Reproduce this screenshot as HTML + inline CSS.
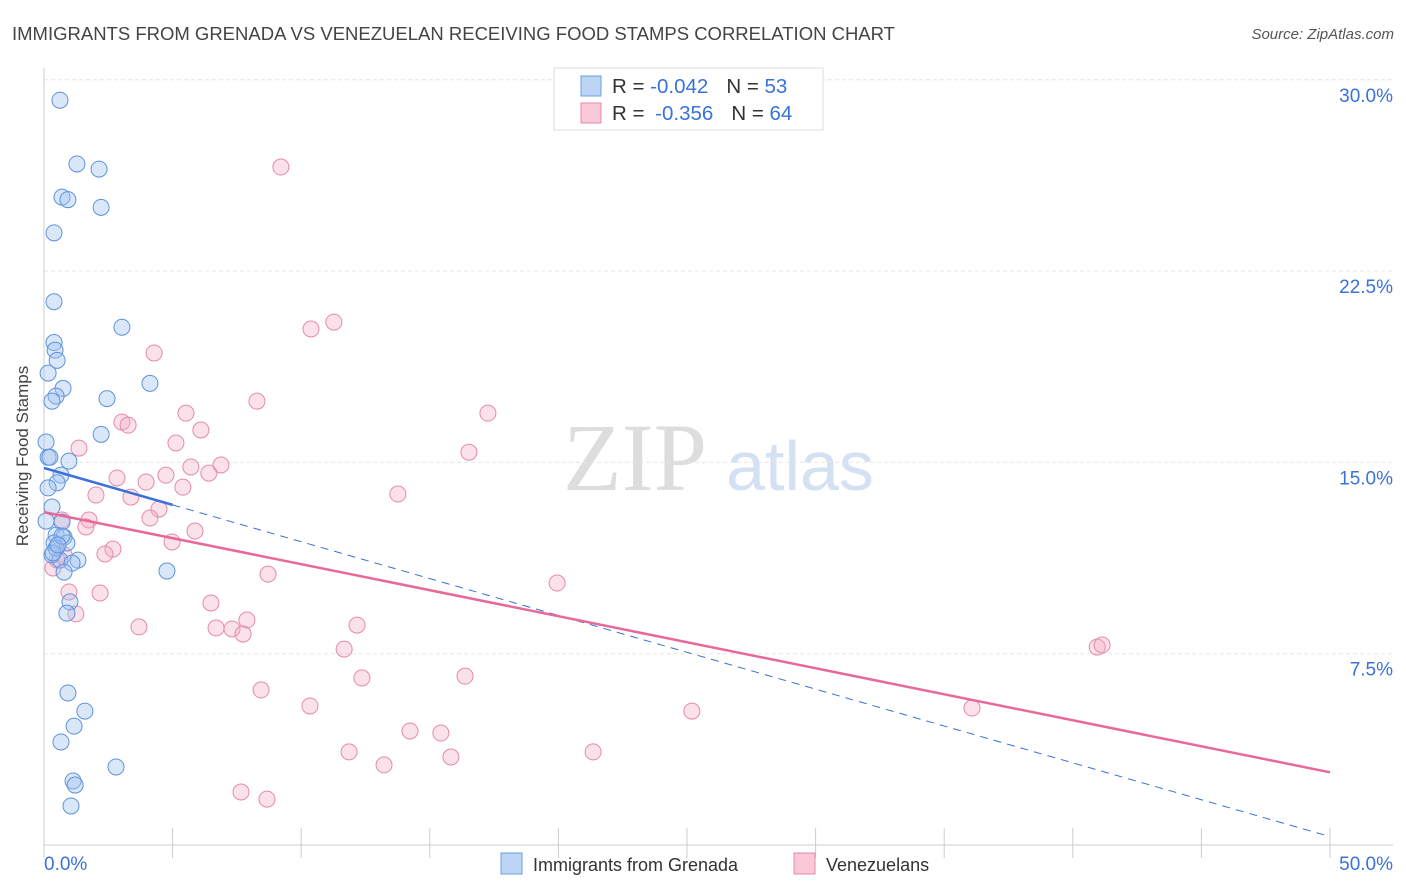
<!DOCTYPE html>
<html><head><meta charset="utf-8"><style>
body{margin:0;background:#fff;font-family:"Liberation Sans",sans-serif;}
svg{display:block}
</style></head><body>
<svg id="chart" width="1406" height="892" viewBox="0 0 1406 892">
<text x="12" y="40" font-size="18.5" fill="#444">IMMIGRANTS FROM GRENADA VS VENEZUELAN RECEIVING FOOD STAMPS CORRELATION CHART</text>
<text x="1394" y="39" font-size="15" fill="#555" font-style="italic" text-anchor="end">Source: ZipAtlas.com</text>
<g>
<text x="635" y="490" font-size="96" fill="#ddd" font-family="Liberation Serif,serif" text-anchor="middle">ZIP</text>
<text x="800" y="490" font-size="70" fill="#d3e1f3" text-anchor="middle">atlas</text>
</g>
<g id="grid"></g>
<g id="axes"></g>
<g id="marks"></g>
<text x="28" y="456" font-size="17" fill="#444" text-anchor="middle" transform="rotate(-90 28 456)">Receiving Food Stamps</text>
<g>
<rect x="554" y="68" width="269" height="62" fill="#fff" stroke="#ddd"/>
<rect x="581" y="76" width="20" height="20" fill="#bcd5f5" stroke="#6a9fe0"/>
<rect x="581" y="103" width="20" height="20" fill="#f9c9d8" stroke="#e888a8"/>
<text x="612" y="93" font-size="20.5" fill="#333">R = <tspan fill="#3a72d8">-0.042</tspan><tspan dx="18">N = </tspan><tspan fill="#3a72d8">53</tspan></text>
<text x="612" y="120" font-size="20.5" fill="#333">R = <tspan fill="#3a72d8" dx="5">-0.356</tspan><tspan dx="18">N = </tspan><tspan fill="#3a72d8">64</tspan></text>
</g>
<g>
<rect x="501" y="853" width="21" height="21" fill="#bcd5f5" stroke="#6a9fe0"/>
<text x="533" y="871" font-size="18" fill="#333">Immigrants from Grenada</text>
<rect x="794" y="853" width="21" height="21" fill="#f9c9d8" stroke="#e888a8"/>
<text x="826" y="871" font-size="18" fill="#333">Venezuelans</text>
</g>
</svg>
<script>
const yTicks=[7.5,15,22.5,30];
const yTickLabels=["7.5%","15.0%","22.5%","30.0%"];
const xTickLabels=["0.0%","50.0%"];
const blueX=[0.62,1.28,2.14,0.70,0.93,2.22,0.39,0.39,3.03,0.39,0.43,0.51,0.16,4.12,0.74,0.47,0.31,2.45,2.22,0.08,0.16,0.23,0.97,0.66,0.51,0.16,0.31,0.08,0.70,0.47,0.78,0.39,0.89,0.31,1.32,0.62,1.09,0.78,4.78,1.01,0.89,0.93,1.59,1.17,0.66,2.80,1.13,1.21,1.05,0.47,0.35,0.70,0.54];
const blueY=[29.2,26.7,26.5,25.4,25.3,25.0,24.0,21.3,20.3,19.7,19.4,19.0,18.5,18.1,17.9,17.6,17.4,17.5,16.1,15.8,15.2,15.2,15.05,14.5,14.2,14.0,13.25,12.7,12.66,12.15,12.07,11.84,11.84,11.37,11.17,11.17,11.05,10.7,10.74,9.53,9.09,5.96,5.25,4.66,4.04,3.06,2.51,2.35,1.53,11.64,11.45,12.11,11.76];
const pinkX=[9.21,11.27,10.38,4.28,8.28,17.26,5.52,3.03,3.27,6.10,5.13,1.36,16.52,6.88,5.71,4.74,2.84,6.41,3.97,5.40,13.76,2.02,3.38,4.47,0.70,4.12,1.75,1.63,5.87,4.98,2.68,0.78,2.37,0.51,0.35,8.71,19.95,2.18,0.97,6.49,1.24,7.89,3.69,6.69,7.31,7.74,12.17,40.95,41.14,11.67,12.36,16.37,8.44,10.34,25.19,36.08,14.23,15.43,11.86,15.82,21.35,13.22,7.66,8.67];
const pinkY=[26.58,20.5,20.23,19.29,17.4,16.93,16.93,16.58,16.46,16.27,15.76,15.56,15.4,14.9,14.82,14.5,14.39,14.58,14.23,14.03,13.76,13.72,13.64,13.17,12.74,12.82,12.74,12.47,12.31,11.88,11.6,11.37,11.41,11.17,10.86,10.62,10.27,9.88,9.92,9.49,9.06,8.82,8.55,8.51,8.47,8.27,8.62,7.76,7.84,7.68,6.55,6.62,6.08,5.45,5.25,5.37,4.47,4.39,3.65,3.45,3.65,3.14,2.08,1.80];
const blueTrend=[14.78,-0.289];
const pinkTrend=[13.05,-0.204];
const X0=44,X1=1330,Y0=845,YPER=191.3/7.5;
function sx(v){return X0+(X1-X0)*v/50;}
function sy(v){return Y0-v*YPER;}
const NS="http://www.w3.org/2000/svg";
function mk(tag,attrs,parent){const e=document.createElementNS(NS,tag);for(const k in attrs)e.setAttribute(k,attrs[k]);parent.appendChild(e);return e;}
const grid=document.getElementById('grid'),axes=document.getElementById('axes'),marks=document.getElementById('marks');
yTicks.forEach((t,i)=>{
 const l=mk('line',{x1:44,x2:1393,y1:sy(t),y2:sy(t),stroke:'#e6e6e6','stroke-dasharray':'4,3'},grid);
 
 
 const tx=mk('text',{x:1393,y:sy(t)+22,'font-size':19,fill:'#3a72d8','text-anchor':'end'},axes);
 tx.textContent=yTickLabels[i];
 
 
});
const ya=mk('line',{x1:44,x2:44,y1:68,y2:845,stroke:'#ccc'},axes);


const xa=mk('line',{x1:44,x2:1393,y1:845,y2:845,stroke:'#ccc'},axes);


for(let i=0;i<=10;i++){const t=mk('line',{x1:sx(i*5),x2:sx(i*5),y1:828,y2:858,stroke:'#ccc'},axes);
 
 }
[[0,'start',44],[50,'end',1393]].forEach((d,i)=>{const t=mk('text',{x:d[2],y:870,'font-size':19,fill:'#3a72d8','text-anchor':d[1]},axes);t.textContent=xTickLabels[i];
 
 });
pinkX.forEach((x,i)=>{const c=mk('circle',{cx:sx(x),cy:sy(pinkY[i]),r:8,fill:'rgba(244,170,195,0.35)',stroke:'#e68aaa','stroke-width':1},marks);
 
 });
blueX.forEach((x,i)=>{const c=mk('circle',{cx:sx(x),cy:sy(blueY[i]),r:8,fill:'rgba(160,195,240,0.4)',stroke:'#5e93dc','stroke-width':1},marks);
 
 });
const bd=mk('line',{x1:sx(5),y1:sy(blueTrend[0]+blueTrend[1]*5),x2:sx(50),y2:sy(blueTrend[0]+blueTrend[1]*50),stroke:'#3a72d8','stroke-width':1,'stroke-dasharray':'8,6'},marks);


const bs=mk('line',{x1:sx(0),y1:sy(blueTrend[0]),x2:sx(5),y2:sy(blueTrend[0]+blueTrend[1]*5),stroke:'#3a72d8','stroke-width':2.5},marks);


const ps=mk('line',{x1:sx(0),y1:sy(pinkTrend[0]),x2:sx(50),y2:sy(pinkTrend[0]+pinkTrend[1]*50),stroke:'#e8689a','stroke-width':2.5},marks);


</script>
</body></html>
